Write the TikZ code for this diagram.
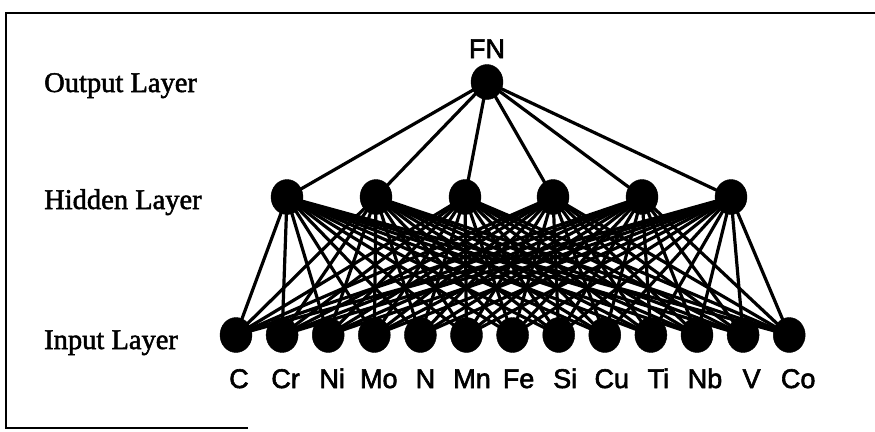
\documentclass[tikz,border=0pt]{standalone}
\usepackage{fontspec}
\setmainfont{Liberation Serif}
\newfontfamily\lserif[FakeBold=1.8]{Liberation Serif}
\newfontfamily\lsans[FakeBold=2.2]{Liberation Sans}
\usetikzlibrary{backgrounds,shapes.geometric}
\begin{document}
\begin{tikzpicture}[x=1pt,y=-1pt,
  neuron/.style={ellipse,fill=black,draw=black,inner sep=0pt,minimum width=32pt,minimum height=35pt},
  elabel/.style={font=\lsans\fontsize{27}{30}\selectfont,inner sep=0pt,anchor=base},
  layerlabel/.style={font=\lserif\fontsize{28.5}{32}\selectfont,anchor=base west,inner sep=0pt},
  conn/.style={line width=3.2pt,black},
  frameline/.style={line width=2pt,black}]
\useasboundingbox (0,0) rectangle (875,431);
% frame
\draw[frameline] (248,428) -- (6,428) -- (6,13) -- (880,13);
% layer labels
\node[layerlabel] (lo) at (44,92) {Output Layer};
\node[layerlabel] (lh) at (44,209) {Hidden Layer};
\node[layerlabel] (li) at (44,349) {Input Layer};
% output
\node[neuron] (fn) at (487,82) {};
\node[elabel] (fnl) at (487,58) {FN};
% hidden
\foreach \i/\x in {1/287,2/376,3/465,4/553,5/642,6/731}
  \node[neuron] (h\i) at (\x,197) {};
% inputs
\foreach \i/\t in {1/C,2/Cr,3/Ni,4/Mo,5/N,6/Mn,7/Fe,8/Si,9/Cu,10/Ti,11/Nb,12/V,13/Co}{
  \node[neuron] (in\i) at ({236+46.1*(\i-1)},335) {};
  \node[elabel] (lab\i) at ({239+46.6*(\i-1)},388) {\t};
}
% connections
\begin{scope}[on background layer]
  \foreach \j in {1,...,6}{
    \draw[conn] (fn.center) -- (h\j.center);
    \foreach \i in {1,...,13}
      \draw[conn] (h\j.center) -- (in\i.center);
  }
\end{scope}
\end{tikzpicture}
\end{document}
